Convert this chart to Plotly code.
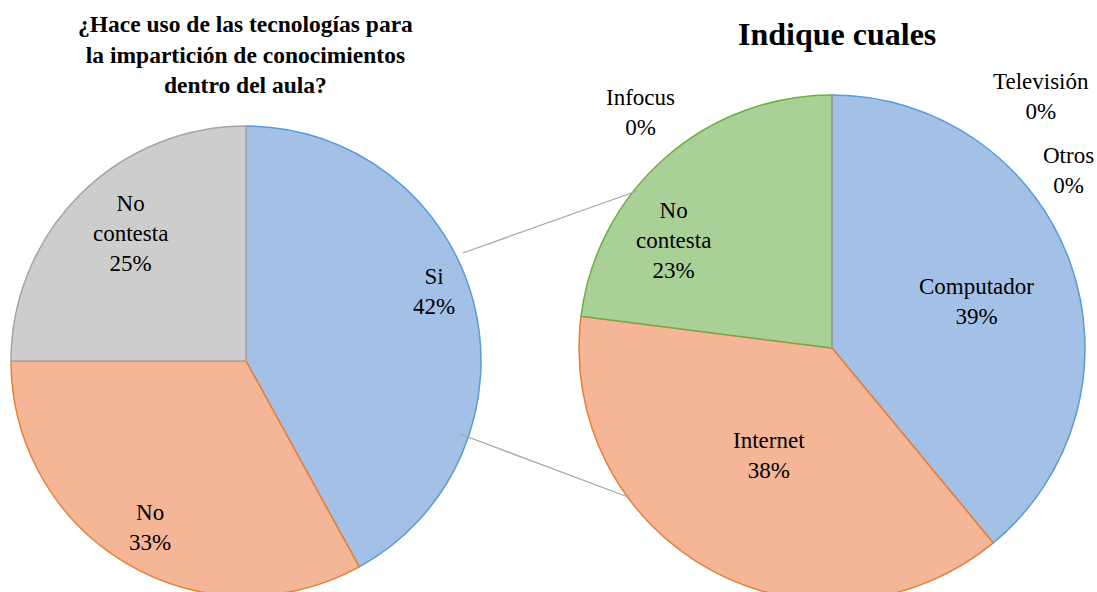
import plotly.graph_objects as go

# ---- data ----
left_labels = ["Si", "No", "No contesta"]
left_values = [42, 33, 25]

right_labels = ["Computador", "Internet", "No contesta", "Infocus", "Televisión", "Otros"]
right_values = [39, 38, 23, 0, 0, 0]

left_title = "¿Hace uso de las tecnologías para<br>la impartición de conocimientos<br>dentro del aula?"
right_title = "Indique cuales"

# ---- layout / style ----
W, H = 1097, 612
FONT = "Liberation Serif"

def px_x(x):
    return x / W

def px_y(y):
    return 1 - y / H

left_fill = ["#A3C1E7", "#F5B597", "#CDCDCD"]
left_line = ["#5B9BD5", "#ED7D31", "#A5A5A5"]
right_fill = ["#A3C1E7", "#F5B597", "#A9D197", "#FFC000", "#4472C4", "#A5A5A5"]
right_line = ["#5B9BD5", "#ED7D31", "#70AD47", "#FFC000", "#4472C4", "#A5A5A5"]

# pie geometry in pixels (center x, center y, radius)
L_GEOM = (246, 361, 235)
R_GEOM = (832, 348, 253)

def domain(g):
    cx, cy, r = g
    return dict(x=[px_x(cx - r), px_x(cx + r)], y=[px_y(cy + r), px_y(cy - r)])

fig = go.Figure()
fig.add_trace(go.Pie(
    labels=left_labels, values=left_values, sort=False, direction="clockwise",
    rotation=0, textinfo="none", hoverinfo="label+percent",
    marker=dict(colors=left_fill, line=dict(color=left_line, width=1.5)),
    domain=domain(L_GEOM), showlegend=False,
))
fig.add_trace(go.Pie(
    labels=right_labels, values=right_values, sort=False, direction="clockwise",
    rotation=0, textinfo="none", hoverinfo="label+percent",
    marker=dict(colors=right_fill, line=dict(color=right_line, width=1.5)),
    domain=domain(R_GEOM), showlegend=False,
))

# label positions (pixels)
left_label_pos = [(434, 291), (150, 527), (130, 233)]
right_label_pos = [(976, 301), (769, 455), (673, 241), (640, 112), (1041, 96), (1068, 170)]

annotations = []

def pct_text(labels, values, positions):
    tot = sum(values)
    for lab, v, (x, y) in zip(labels, values, positions):
        name = lab.replace("No contesta", "No<br>contesta")
        annotations.append(dict(
            x=px_x(x), y=px_y(y), xref="paper", yref="paper",
            text=f"{name}<br>{round(100 * v / tot)}%", showarrow=False,
            xanchor="center", yanchor="middle", align="center",
            font=dict(family=FONT, size=23, color="#000000"),
        ))

pct_text(left_labels, left_values, left_label_pos)
pct_text(right_labels, right_values, right_label_pos)

annotations.append(dict(
    x=px_x(245), y=px_y(54), xref="paper", yref="paper", text=f"<b>{left_title}</b>",
    showarrow=False, xanchor="center", yanchor="middle", align="center",
    font=dict(family=FONT, size=23.5, color="#000000"),
))
annotations.append(dict(
    x=px_x(837), y=px_y(34), xref="paper", yref="paper", text=f"<b>{right_title}</b>",
    showarrow=False, xanchor="center", yanchor="middle", align="center",
    font=dict(family=FONT, size=32, color="#000000"),
))

# connector lines between the two pies
connectors = [((463, 253), (637, 191)), ((460, 434), (628, 497))]
shapes = []
for (x0, y0), (x1, y1) in connectors:
    shapes.append(dict(type="line", xref="paper", yref="paper",
                       x0=px_x(x0), y0=px_y(y0), x1=px_x(x1), y1=px_y(y1),
                       line=dict(color="#A6A6A6", width=1.2)))

fig.update_layout(
    width=W, height=H, margin=dict(l=0, r=0, t=0, b=0),
    paper_bgcolor="#FFFFFF", plot_bgcolor="#FFFFFF",
    annotations=annotations, shapes=shapes,
)

fig.write_html("out.html", config={"displayModeBar": False},
               post_script="document.body.style.margin='0';document.body.style.overflow='hidden';")
